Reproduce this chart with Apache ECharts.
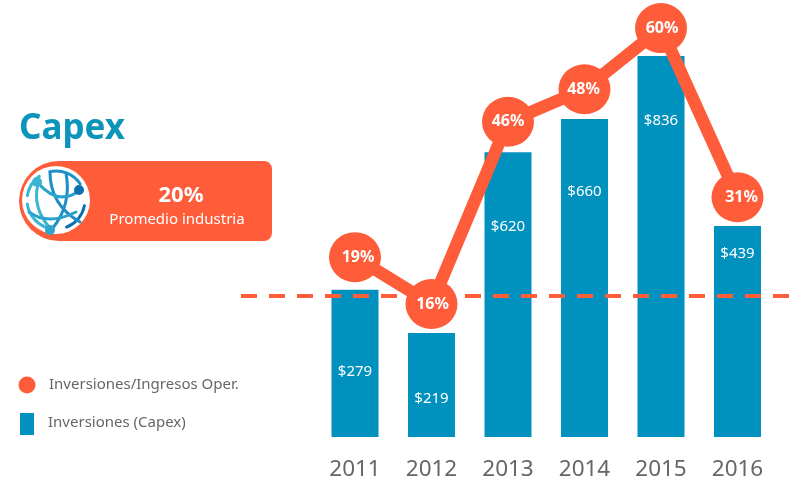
<!DOCTYPE html>
<html><head><meta charset="utf-8">
<style>html,body{margin:0;padding:0;background:#fff}#c{width:792px;height:482px}</style>
<script src="https://cdn.jsdelivr.net/npm/echarts@6/dist/echarts.min.js"></script>
</head><body><div id="c"></div>
<script>
const categories = ['2011','2012','2013','2014','2015','2016'];
// Printed labels
const capexLabels = ['$279','$219','$620','$660','$836','$439'];
const ratioLabels = ['19%','16%','46%','48%','60%','31%'];
// Heights as drawn in the picture (the source is not strictly to scale)
const capexDrawn = [323,228,625,698,836,463];
const ratioDrawn = [23.8,16.3,45.5,50.7,60.5,33.4];
const F = '"Noto Sans", sans-serif';
const ORANGE = '#FF5C39', BLUE = '#0091BE', GREY = '#666666';
// Layout only: where the source places its labels
const capexLabelDrop = [82,66,75,73,65,28];
const ratioLabelShift = [3,1,0,-1,1,4];

const chart = echarts.init(document.getElementById('c'), null, {renderer:'canvas'});
const arc = (cx,cy,r,a,b,color,w)=>({type:'arc',z:20,shape:{cx,cy,r,startAngle:a,endAngle:b},style:{stroke:color,lineWidth:w,fill:null,lineCap:'round'}});
const curve = (x1,y1,cx,cy,x2,y2,color,w)=>({type:'bezierCurve',z:20,shape:{x1,y1,cpx1:cx,cpy1:cy,x2,y2},style:{stroke:color,lineWidth:w,fill:null,lineCap:'round'}});
const dot = (cx,cy,r,color)=>({type:'circle',z:21,shape:{cx,cy,r},style:{fill:color}});
const txt = (x,y,text,font,color,align)=>({type:'text',z:22,x,y,style:{text,font,fill:color,align:align||'left',verticalAlign:'middle'}});

chart.setOption({
  animation:false,
  grid:{left:316.75,right:16.25,top:0,bottom:45},
  xAxis:{type:'category',data:categories,axisLine:{show:false},axisTick:{show:false},
    axisLabel:{color:GREY,fontFamily:F,fontSize:22.5,margin:21}},
  yAxis:[
    {type:'value',min:0,max:959,show:false},
    {type:'value',min:-5,max:65,show:false}
  ],
  series:[
    {type:'bar',z:1,barWidth:47,itemStyle:{color:BLUE},
     data:capexDrawn.map((v,i)=>({value:v,label:{position:['50%',capexLabelDrop[i]]}})),
     label:{show:true,align:'center',verticalAlign:'middle',color:'#fff',fontFamily:F,fontSize:15,
       formatter:p=>capexLabels[p.dataIndex]}},
    {type:'line',yAxisIndex:1,data:[],z:2,silent:true,
     markLine:{silent:true,symbol:'none',z:2,label:{show:false},
       lineStyle:{color:ORANGE,width:4,type:[16,12],opacity:1},
       data:[[{x:241,y:296},{x:792,y:296}]]}},
    {type:'line',yAxisIndex:1,z:3,symbol:'circle',symbolSize:[52,50],
     data:ratioDrawn.map((v,i)=>({value:v,label:{offset:[ratioLabelShift[i],0]}})),
     lineStyle:{color:ORANGE,width:12.5},itemStyle:{color:ORANGE},
     label:{show:true,position:'inside',color:'#fff',fontFamily:F,fontWeight:'bold',fontSize:16,
       formatter:p=>ratioLabels[p.dataIndex]}}
  ],
  graphic:[
    txt(19,129,'Capex','bold 35px '+F,'#0C94BA'),
    {type:'rect',z:18,shape:{x:19,y:161,width:253,height:80,r:[40,8,8,40]},style:{fill:ORANGE}},
    {type:'circle',z:19,shape:{cx:56,cy:200,r:34},style:{fill:'#fff'}},
    arc(56,200,29,0.2,1.2,'#0E6FB0',3),
    arc(56,200,29,1.75,3.0,'#3BB5D2',3),
    arc(56,200,29,3.3,4.1,'#3BB5D2',3),
    arc(56,200,29,4.5,5.7,'#1E90C8',3),
    curve(38,184,32,208,50,228,'#3BB5D2',3),
    curve(50,172,50,205,80,222,'#1E8FC6',3),
    curve(66,173,72,205,52,229,'#1E8FC6',3),
    curve(38,183,58,206,79,191,'#2AA3CC',3),
    curve(29,212,48,226,76,212,'#2AA3CC',3),
    dot(37,182,5,'#3BB5D2'),
    dot(79,190,5,'#0E6FB0'),
    dot(50,230,5,'#2EA6CC'),
    txt(181,196,'20%','bold 22px '+F,'#fff','center'),
    txt(177,220,'Promedio industria','15px '+F,'#fff','center'),
    {type:'circle',z:20,shape:{cx:27,cy:385,r:8.5},style:{fill:ORANGE}},
    {type:'rect',z:20,shape:{x:20,y:413,width:14,height:22},style:{fill:BLUE}},
    txt(49,385,'Inversiones/Ingresos Oper.','15px '+F,GREY),
    txt(48,423,'Inversiones (Capex)','15px '+F,GREY)
  ]
});
</script></body></html>
